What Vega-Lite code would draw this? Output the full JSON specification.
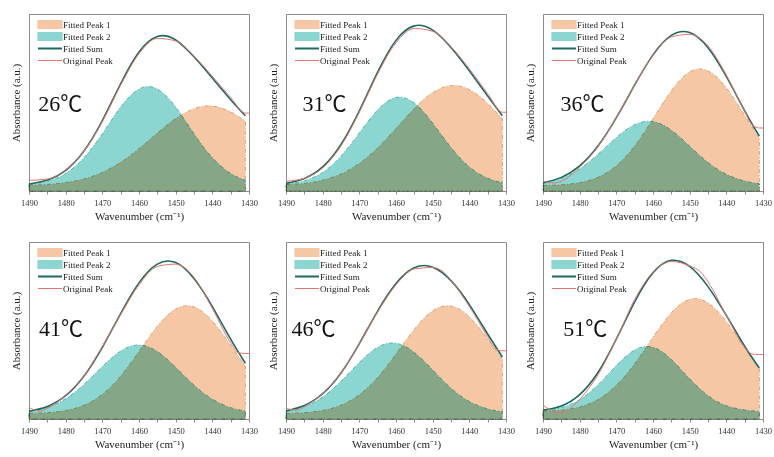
{
"$schema": "https://vega.github.io/schema/vega-lite/v6.json",
"background": "white",
"padding": {"left": 9, "top": 13, "right": 2, "bottom": 2},
"columns": 3,
"spacing": {"row": 19, "column": 8},
"resolve": {"scale": {"color": "independent", "stroke": "independent"}, "legend": {"color": "independent", "stroke": "independent"}},
"datasets": {
"fit": [
{"t":"26","x":1490,"Fitted Peak 1":0.033,"Fitted Peak 2":0.037,"Fitted Sum":0.040},
{"t":"26","x":1485,"Fitted Peak 1":0.037,"Fitted Peak 2":0.055,"Fitted Sum":0.062},
{"t":"26","x":1480,"Fitted Peak 1":0.048,"Fitted Peak 2":0.099,"Fitted Sum":0.117},
{"t":"26","x":1475,"Fitted Peak 1":0.068,"Fitted Peak 2":0.188,"Fitted Sum":0.226},
{"t":"26","x":1470,"Fitted Peak 1":0.105,"Fitted Peak 2":0.323,"Fitted Sum":0.398},
{"t":"26","x":1465,"Fitted Peak 1":0.162,"Fitted Peak 2":0.474,"Fitted Sum":0.606},
{"t":"26","x":1460,"Fitted Peak 1":0.239,"Fitted Peak 2":0.576,"Fitted Sum":0.785},
{"t":"26","x":1455,"Fitted Peak 1":0.327,"Fitted Peak 2":0.576,"Fitted Sum":0.873},
{"t":"26","x":1450,"Fitted Peak 1":0.409,"Fitted Peak 2":0.474,"Fitted Sum":0.853},
{"t":"26","x":1445,"Fitted Peak 1":0.465,"Fitted Peak 2":0.323,"Fitted Sum":0.758},
{"t":"26","x":1440,"Fitted Peak 1":0.480,"Fitted Peak 2":0.188,"Fitted Sum":0.638},
{"t":"26","x":1435,"Fitted Peak 1":0.447,"Fitted Peak 2":0.099,"Fitted Sum":0.516},
{"t":"26","x":1431,"Fitted Peak 1":0.394,"Fitted Peak 2":0.061,"Fitted Sum":0.425},
{"t":"31","x":1490,"Fitted Peak 1":0.035,"Fitted Peak 2":0.038,"Fitted Sum":0.043},
{"t":"31","x":1485,"Fitted Peak 1":0.043,"Fitted Peak 2":0.058,"Fitted Sum":0.071},
{"t":"31","x":1480,"Fitted Peak 1":0.061,"Fitted Peak 2":0.105,"Fitted Sum":0.136},
{"t":"31","x":1475,"Fitted Peak 1":0.096,"Fitted Peak 2":0.197,"Fitted Sum":0.263},
{"t":"31","x":1470,"Fitted Peak 1":0.156,"Fitted Peak 2":0.328,"Fitted Sum":0.453},
{"t":"31","x":1465,"Fitted Peak 1":0.243,"Fitted Peak 2":0.458,"Fitted Sum":0.672},
{"t":"31","x":1460,"Fitted Peak 1":0.353,"Fitted Peak 2":0.528,"Fitted Sum":0.851},
{"t":"31","x":1455,"Fitted Peak 1":0.466,"Fitted Peak 2":0.497,"Fitted Sum":0.933},
{"t":"31","x":1450,"Fitted Peak 1":0.556,"Fitted Peak 2":0.383,"Fitted Sum":0.909},
{"t":"31","x":1445,"Fitted Peak 1":0.595,"Fitted Peak 2":0.246,"Fitted Sum":0.811},
{"t":"31","x":1440,"Fitted Peak 1":0.573,"Fitted Peak 2":0.136,"Fitted Sum":0.679},
{"t":"31","x":1435,"Fitted Peak 1":0.495,"Fitted Peak 2":0.072,"Fitted Sum":0.537},
{"t":"31","x":1431,"Fitted Peak 1":0.408,"Fitted Peak 2":0.047,"Fitted Sum":0.425},
{"t":"36","x":1490,"Fitted Peak 1":0.031,"Fitted Peak 2":0.045,"Fitted Sum":0.046},
{"t":"36","x":1485,"Fitted Peak 1":0.035,"Fitted Peak 2":0.072,"Fitted Sum":0.077},
{"t":"36","x":1480,"Fitted Peak 1":0.047,"Fitted Peak 2":0.125,"Fitted Sum":0.142},
{"t":"36","x":1475,"Fitted Peak 1":0.077,"Fitted Peak 2":0.207,"Fitted Sum":0.254},
{"t":"36","x":1470,"Fitted Peak 1":0.142,"Fitted Peak 2":0.302,"Fitted Sum":0.414},
{"t":"36","x":1465,"Fitted Peak 1":0.254,"Fitted Peak 2":0.375,"Fitted Sum":0.599},
{"t":"36","x":1460,"Fitted Peak 1":0.407,"Fitted Peak 2":0.392,"Fitted Sum":0.769},
{"t":"36","x":1455,"Fitted Peak 1":0.566,"Fitted Peak 2":0.343,"Fitted Sum":0.879},
{"t":"36","x":1450,"Fitted Peak 1":0.673,"Fitted Peak 2":0.253,"Fitted Sum":0.895},
{"t":"36","x":1445,"Fitted Peak 1":0.679,"Fitted Peak 2":0.161,"Fitted Sum":0.810},
{"t":"36","x":1440,"Fitted Peak 1":0.583,"Fitted Peak 2":0.094,"Fitted Sum":0.647},
{"t":"36","x":1435,"Fitted Peak 1":0.427,"Fitted Peak 2":0.056,"Fitted Sum":0.453},
{"t":"36","x":1431,"Fitted Peak 1":0.300,"Fitted Peak 2":0.041,"Fitted Sum":0.310},
{"t":"41","x":1490,"Fitted Peak 1":0.032,"Fitted Peak 2":0.042,"Fitted Sum":0.044},
{"t":"41","x":1485,"Fitted Peak 1":0.036,"Fitted Peak 2":0.066,"Fitted Sum":0.071},
{"t":"41","x":1480,"Fitted Peak 1":0.048,"Fitted Peak 2":0.115,"Fitted Sum":0.132},
{"t":"41","x":1475,"Fitted Peak 1":0.078,"Fitted Peak 2":0.195,"Fitted Sum":0.243},
{"t":"41","x":1470,"Fitted Peak 1":0.139,"Fitted Peak 2":0.296,"Fitted Sum":0.405},
{"t":"41","x":1465,"Fitted Peak 1":0.242,"Fitted Peak 2":0.384,"Fitted Sum":0.596},
{"t":"41","x":1460,"Fitted Peak 1":0.381,"Fitted Peak 2":0.418,"Fitted Sum":0.769},
{"t":"41","x":1455,"Fitted Peak 1":0.524,"Fitted Peak 2":0.381,"Fitted Sum":0.875},
{"t":"41","x":1450,"Fitted Peak 1":0.621,"Fitted Peak 2":0.292,"Fitted Sum":0.884},
{"t":"41","x":1445,"Fitted Peak 1":0.633,"Fitted Peak 2":0.191,"Fitted Sum":0.794},
{"t":"41","x":1440,"Fitted Peak 1":0.553,"Fitted Peak 2":0.112,"Fitted Sum":0.635},
{"t":"41","x":1435,"Fitted Peak 1":0.416,"Fitted Peak 2":0.064,"Fitted Sum":0.451},
{"t":"41","x":1431,"Fitted Peak 1":0.300,"Fitted Peak 2":0.045,"Fitted Sum":0.315},
{"t":"46","x":1490,"Fitted Peak 1":0.032,"Fitted Peak 2":0.044,"Fitted Sum":0.046},
{"t":"46","x":1485,"Fitted Peak 1":0.036,"Fitted Peak 2":0.070,"Fitted Sum":0.076},
{"t":"46","x":1480,"Fitted Peak 1":0.048,"Fitted Peak 2":0.124,"Fitted Sum":0.143},
{"t":"46","x":1475,"Fitted Peak 1":0.078,"Fitted Peak 2":0.213,"Fitted Sum":0.260},
{"t":"46","x":1470,"Fitted Peak 1":0.137,"Fitted Peak 2":0.319,"Fitted Sum":0.426},
{"t":"46","x":1465,"Fitted Peak 1":0.234,"Fitted Peak 2":0.405,"Fitted Sum":0.610},
{"t":"46","x":1460,"Fitted Peak 1":0.367,"Fitted Peak 2":0.428,"Fitted Sum":0.765},
{"t":"46","x":1455,"Fitted Peak 1":0.507,"Fitted Peak 2":0.376,"Fitted Sum":0.854},
{"t":"46","x":1450,"Fitted Peak 1":0.611,"Fitted Peak 2":0.277,"Fitted Sum":0.858},
{"t":"46","x":1445,"Fitted Peak 1":0.638,"Fitted Peak 2":0.174,"Fitted Sum":0.782},
{"t":"46","x":1440,"Fitted Peak 1":0.577,"Fitted Peak 2":0.099,"Fitted Sum":0.646},
{"t":"46","x":1435,"Fitted Peak 1":0.453,"Fitted Peak 2":0.057,"Fitted Sum":0.480},
{"t":"46","x":1431,"Fitted Peak 1":0.339,"Fitted Peak 2":0.041,"Fitted Sum":0.350},
{"t":"51","x":1490,"Fitted Peak 1":0.043,"Fitted Peak 2":0.047,"Fitted Sum":0.050},
{"t":"51","x":1485,"Fitted Peak 1":0.050,"Fitted Peak 2":0.065,"Fitted Sum":0.074},
{"t":"51","x":1480,"Fitted Peak 1":0.068,"Fitted Peak 2":0.109,"Fitted Sum":0.138},
{"t":"51","x":1475,"Fitted Peak 1":0.110,"Fitted Peak 2":0.193,"Fitted Sum":0.263},
{"t":"51","x":1470,"Fitted Peak 1":0.190,"Fitted Peak 2":0.302,"Fitted Sum":0.452},
{"t":"51","x":1465,"Fitted Peak 1":0.312,"Fitted Peak 2":0.390,"Fitted Sum":0.662},
{"t":"51","x":1460,"Fitted Peak 1":0.462,"Fitted Peak 2":0.405,"Fitted Sum":0.827},
{"t":"51","x":1455,"Fitted Peak 1":0.600,"Fitted Peak 2":0.336,"Fitted Sum":0.896},
{"t":"51","x":1450,"Fitted Peak 1":0.676,"Fitted Peak 2":0.227,"Fitted Sum":0.862},
{"t":"51","x":1445,"Fitted Peak 1":0.656,"Fitted Peak 2":0.132,"Fitted Sum":0.748},
{"t":"51","x":1440,"Fitted Peak 1":0.550,"Fitted Peak 2":0.075,"Fitted Sum":0.585},
{"t":"51","x":1435,"Fitted Peak 1":0.401,"Fitted Peak 2":0.051,"Fitted Sum":0.411},
{"t":"51","x":1431,"Fitted Peak 1":0.284,"Fitted Peak 2":0.043,"Fitted Sum":0.288}
],
"orig": [
{"t":"26","x":1490,"y":0.060},{"t":"26","x":1485,"y":0.068},{"t":"26","x":1480,"y":0.120},{"t":"26","x":1475,"y":0.225},{"t":"26","x":1470,"y":0.392},{"t":"26","x":1465,"y":0.598},{"t":"26","x":1460,"y":0.776},{"t":"26","x":1455,"y":0.862},{"t":"26","x":1450,"y":0.848},{"t":"26","x":1445,"y":0.762},{"t":"26","x":1440,"y":0.648},{"t":"26","x":1435,"y":0.528},{"t":"26","x":1431,"y":0.440},{"t":"26","x":1430,"y":0.440},
{"t":"31","x":1490,"y":0.055},{"t":"31","x":1485,"y":0.072},{"t":"31","x":1480,"y":0.130},{"t":"31","x":1475,"y":0.255},{"t":"31","x":1470,"y":0.445},{"t":"31","x":1465,"y":0.662},{"t":"31","x":1460,"y":0.838},{"t":"31","x":1455,"y":0.918},{"t":"31","x":1450,"y":0.902},{"t":"31","x":1445,"y":0.815},{"t":"31","x":1440,"y":0.690},{"t":"31","x":1435,"y":0.550},{"t":"31","x":1431,"y":0.445},{"t":"31","x":1430,"y":0.445},
{"t":"36","x":1490,"y":0.055},{"t":"36","x":1487,"y":0.045},{"t":"36","x":1485,"y":0.055},{"t":"36","x":1480,"y":0.135},{"t":"36","x":1475,"y":0.250},{"t":"36","x":1470,"y":0.415},{"t":"36","x":1465,"y":0.600},{"t":"36","x":1460,"y":0.765},{"t":"36","x":1455,"y":0.870},{"t":"36","x":1450,"y":0.885},{"t":"36","x":1447,"y":0.860},{"t":"36","x":1445,"y":0.820},{"t":"36","x":1440,"y":0.655},{"t":"36","x":1435,"y":0.450},{"t":"36","x":1433,"y":0.375},{"t":"36","x":1431,"y":0.356},{"t":"36","x":1430,"y":0.356},
{"t":"41","x":1490,"y":0.065},{"t":"41","x":1487,"y":0.045},{"t":"41","x":1485,"y":0.060},{"t":"41","x":1480,"y":0.135},{"t":"41","x":1475,"y":0.245},{"t":"41","x":1470,"y":0.410},{"t":"41","x":1465,"y":0.590},{"t":"41","x":1460,"y":0.758},{"t":"41","x":1455,"y":0.862},{"t":"41","x":1450,"y":0.875},{"t":"41","x":1447,"y":0.845},{"t":"41","x":1445,"y":0.800},{"t":"41","x":1440,"y":0.625},{"t":"41","x":1435,"y":0.430},{"t":"41","x":1433,"y":0.375},{"t":"41","x":1431,"y":0.370},{"t":"41","x":1430,"y":0.370},
{"t":"46","x":1490,"y":0.060},{"t":"46","x":1487,"y":0.050},{"t":"46","x":1485,"y":0.070},{"t":"46","x":1480,"y":0.145},{"t":"46","x":1475,"y":0.260},{"t":"46","x":1470,"y":0.425},{"t":"46","x":1465,"y":0.605},{"t":"46","x":1460,"y":0.758},{"t":"46","x":1455,"y":0.848},{"t":"46","x":1450,"y":0.856},{"t":"46","x":1447,"y":0.830},{"t":"46","x":1445,"y":0.785},{"t":"46","x":1440,"y":0.635},{"t":"46","x":1435,"y":0.465},{"t":"46","x":1433,"y":0.400},{"t":"46","x":1431,"y":0.385},{"t":"46","x":1430,"y":0.385},
{"t":"51","x":1490,"y":0.080},{"t":"51","x":1487,"y":0.040},{"t":"51","x":1485,"y":0.035},{"t":"51","x":1482,"y":0.070},{"t":"51","x":1480,"y":0.110},{"t":"51","x":1475,"y":0.250},{"t":"51","x":1470,"y":0.450},{"t":"51","x":1465,"y":0.675},{"t":"51","x":1460,"y":0.830},{"t":"51","x":1455,"y":0.890},{"t":"51","x":1450,"y":0.865},{"t":"51","x":1447,"y":0.830},{"t":"51","x":1445,"y":0.775},{"t":"51","x":1440,"y":0.585},{"t":"51","x":1435,"y":0.405},{"t":"51","x":1433,"y":0.368},{"t":"51","x":1431,"y":0.364},{"t":"51","x":1430,"y":0.364}
],
"labels": [
{"t":"26","x":1487.5,"y":0.452,"label":"26℃"},
{"t":"31","x":1485.5,"y":0.452,"label":"31℃"},
{"t":"36","x":1485.2,"y":0.452,"label":"36℃"},
{"t":"41","x":1487.3,"y":0.47,"label":"41℃"},
{"t":"46","x":1488.5,"y":0.47,"label":"46℃"},
{"t":"51","x":1484.5,"y":0.47,"label":"51℃"}
]
},
"concat": [
{"width":220,"height":177,
"encoding":{"x":{"field":"x","type":"quantitative","scale":{"domain":[1430,1490],"reverse":true,"nice":false,"zero":false},"axis":{"title":"Wavenumber (cm⁻¹)","values":[1430,1435,1440,1445,1450,1455,1460,1465,1470,1475,1480,1485,1490],"format":"d","labelExpr":"datum.value % 10 === 0 ? datum.label : ''","tickSize":3,"labelPadding":4,"titlePadding":4,"labelOverlap":false,"labelFlush":false}}},
"layer":[
{"data":{"name":"fit"},"transform":[{"filter":"datum.t=='26'"},{"fold":["Fitted Peak 2","Fitted Peak 1"],"as":["series","v"]}],
"mark":{"type":"area","interpolate":"natural","blend":"multiply","strokeWidth":1,"strokeDash":[4,2,1,2]},
"encoding":{"y":{"field":"v","type":"quantitative","stack":null,"scale":{"domain":[0,1],"nice":false},"axis":{"title":"Absorbance (a.u.)","labels":false,"ticks":false,"titlePadding":8}},
"color":{"field":"series","type":"nominal","scale":{"domain":["Fitted Peak 1","Fitted Peak 2","Fitted Sum","Original Peak"],"range":["#f6c7a5","#8bd6d0","#1c6b5e","#e8736e"]},
"legend":{"title":null,"orient":"top-left","offset":6,"padding":0,"symbolSize":576,"clipHeight":9,"rowPadding":2,"labelFontSize":9,"labelColor":"#222","labelLimit":200,
"encode":{"symbols":{"update":{"x":{"value":15},"size":{"value":576},"shape":{"signal":"datum.value=='Fitted Sum'||datum.value=='Original Peak' ? 'stroke' : 'M-1,-0.32H1V0.32H-1Z'"},"fill":{"signal":"datum.value=='Fitted Peak 1' ? '#f6c7a5' : datum.value=='Fitted Peak 2' ? '#8bd6d0' : 'transparent'"},"stroke":{"signal":"datum.value=='Fitted Peak 1' ? '#f0b88a' : datum.value=='Fitted Peak 2' ? '#7fd0c4' : datum.value=='Fitted Sum' ? '#1c6b5e' : '#e8736e'"},"strokeWidth":{"signal":"datum.value=='Fitted Sum' ? 2 : 1.2"},"opacity":{"value":1}}},"labels":{"update":{"x":{"value":28}}}}}},
"stroke":{"field":"series","type":"nominal","scale":{"domain":["Fitted Peak 1","Fitted Peak 2"],"range":["#e0a26e","#4fb5a7"]},"legend":null}}},
{"data":{"name":"fit"},"transform":[{"filter":"datum.t=='26'"}],"mark":{"type":"line","interpolate":"natural","strokeWidth":1.6},
"encoding":{"y":{"field":"Fitted Sum","type":"quantitative","title":"Absorbance (a.u.)"},"color":{"datum":"Fitted Sum","type":"nominal"}}},
{"data":{"name":"orig"},"transform":[{"filter":"datum.t=='26'"}],"mark":{"type":"line","interpolate":"monotone","strokeWidth":1},
"encoding":{"y":{"field":"y","type":"quantitative","title":"Absorbance (a.u.)"},"color":{"datum":"Original Peak","type":"nominal"}}},
{"data":{"name":"labels"},"transform":[{"filter":"datum.t=='26'"}],"mark":{"type":"text","align":"left","baseline":"alphabetic","fontSize":22,"font":"Liberation Serif, Noto Sans CJK SC","color":"#111"},
"encoding":{"y":{"field":"y","type":"quantitative","title":"Absorbance (a.u.)"},"text":{"field":"label"}}}
]},
{"width":220,"height":177,
"encoding":{"x":{"field":"x","type":"quantitative","scale":{"domain":[1430,1490],"reverse":true,"nice":false,"zero":false},"axis":{"title":"Wavenumber (cm⁻¹)","values":[1430,1435,1440,1445,1450,1455,1460,1465,1470,1475,1480,1485,1490],"format":"d","labelExpr":"datum.value % 10 === 0 ? datum.label : ''","tickSize":3,"labelPadding":4,"titlePadding":4,"labelOverlap":false,"labelFlush":false}}},
"layer":[
{"data":{"name":"fit"},"transform":[{"filter":"datum.t=='31'"},{"fold":["Fitted Peak 2","Fitted Peak 1"],"as":["series","v"]}],
"mark":{"type":"area","interpolate":"natural","blend":"multiply","strokeWidth":1,"strokeDash":[4,2,1,2]},
"encoding":{"y":{"field":"v","type":"quantitative","stack":null,"scale":{"domain":[0,1],"nice":false},"axis":{"title":"Absorbance (a.u.)","labels":false,"ticks":false,"titlePadding":8}},
"color":{"field":"series","type":"nominal","scale":{"domain":["Fitted Peak 1","Fitted Peak 2","Fitted Sum","Original Peak"],"range":["#f6c7a5","#8bd6d0","#1c6b5e","#e8736e"]},
"legend":{"title":null,"orient":"top-left","offset":6,"padding":0,"symbolSize":576,"clipHeight":9,"rowPadding":2,"labelFontSize":9,"labelColor":"#222","labelLimit":200,
"encode":{"symbols":{"update":{"x":{"value":15},"size":{"value":576},"shape":{"signal":"datum.value=='Fitted Sum'||datum.value=='Original Peak' ? 'stroke' : 'M-1,-0.32H1V0.32H-1Z'"},"fill":{"signal":"datum.value=='Fitted Peak 1' ? '#f6c7a5' : datum.value=='Fitted Peak 2' ? '#8bd6d0' : 'transparent'"},"stroke":{"signal":"datum.value=='Fitted Peak 1' ? '#f0b88a' : datum.value=='Fitted Peak 2' ? '#7fd0c4' : datum.value=='Fitted Sum' ? '#1c6b5e' : '#e8736e'"},"strokeWidth":{"signal":"datum.value=='Fitted Sum' ? 2 : 1.2"},"opacity":{"value":1}}},"labels":{"update":{"x":{"value":28}}}}}},
"stroke":{"field":"series","type":"nominal","scale":{"domain":["Fitted Peak 1","Fitted Peak 2"],"range":["#e0a26e","#4fb5a7"]},"legend":null}}},
{"data":{"name":"fit"},"transform":[{"filter":"datum.t=='31'"}],"mark":{"type":"line","interpolate":"natural","strokeWidth":1.6},
"encoding":{"y":{"field":"Fitted Sum","type":"quantitative","title":"Absorbance (a.u.)"},"color":{"datum":"Fitted Sum","type":"nominal"}}},
{"data":{"name":"orig"},"transform":[{"filter":"datum.t=='31'"}],"mark":{"type":"line","interpolate":"monotone","strokeWidth":1},
"encoding":{"y":{"field":"y","type":"quantitative","title":"Absorbance (a.u.)"},"color":{"datum":"Original Peak","type":"nominal"}}},
{"data":{"name":"labels"},"transform":[{"filter":"datum.t=='31'"}],"mark":{"type":"text","align":"left","baseline":"alphabetic","fontSize":22,"font":"Liberation Serif, Noto Sans CJK SC","color":"#111"},
"encoding":{"y":{"field":"y","type":"quantitative","title":"Absorbance (a.u.)"},"text":{"field":"label"}}}
]},
{"width":220,"height":177,
"encoding":{"x":{"field":"x","type":"quantitative","scale":{"domain":[1430,1490],"reverse":true,"nice":false,"zero":false},"axis":{"title":"Wavenumber (cm⁻¹)","values":[1430,1435,1440,1445,1450,1455,1460,1465,1470,1475,1480,1485,1490],"format":"d","labelExpr":"datum.value % 10 === 0 ? datum.label : ''","tickSize":3,"labelPadding":4,"titlePadding":4,"labelOverlap":false,"labelFlush":false}}},
"layer":[
{"data":{"name":"fit"},"transform":[{"filter":"datum.t=='36'"},{"fold":["Fitted Peak 2","Fitted Peak 1"],"as":["series","v"]}],
"mark":{"type":"area","interpolate":"natural","blend":"multiply","strokeWidth":1,"strokeDash":[4,2,1,2]},
"encoding":{"y":{"field":"v","type":"quantitative","stack":null,"scale":{"domain":[0,1],"nice":false},"axis":{"title":"Absorbance (a.u.)","labels":false,"ticks":false,"titlePadding":8}},
"color":{"field":"series","type":"nominal","scale":{"domain":["Fitted Peak 1","Fitted Peak 2","Fitted Sum","Original Peak"],"range":["#f6c7a5","#8bd6d0","#1c6b5e","#e8736e"]},
"legend":{"title":null,"orient":"top-left","offset":6,"padding":0,"symbolSize":576,"clipHeight":9,"rowPadding":2,"labelFontSize":9,"labelColor":"#222","labelLimit":200,
"encode":{"symbols":{"update":{"x":{"value":15},"size":{"value":576},"shape":{"signal":"datum.value=='Fitted Sum'||datum.value=='Original Peak' ? 'stroke' : 'M-1,-0.32H1V0.32H-1Z'"},"fill":{"signal":"datum.value=='Fitted Peak 1' ? '#f6c7a5' : datum.value=='Fitted Peak 2' ? '#8bd6d0' : 'transparent'"},"stroke":{"signal":"datum.value=='Fitted Peak 1' ? '#f0b88a' : datum.value=='Fitted Peak 2' ? '#7fd0c4' : datum.value=='Fitted Sum' ? '#1c6b5e' : '#e8736e'"},"strokeWidth":{"signal":"datum.value=='Fitted Sum' ? 2 : 1.2"},"opacity":{"value":1}}},"labels":{"update":{"x":{"value":28}}}}}},
"stroke":{"field":"series","type":"nominal","scale":{"domain":["Fitted Peak 1","Fitted Peak 2"],"range":["#e0a26e","#4fb5a7"]},"legend":null}}},
{"data":{"name":"fit"},"transform":[{"filter":"datum.t=='36'"}],"mark":{"type":"line","interpolate":"natural","strokeWidth":1.6},
"encoding":{"y":{"field":"Fitted Sum","type":"quantitative","title":"Absorbance (a.u.)"},"color":{"datum":"Fitted Sum","type":"nominal"}}},
{"data":{"name":"orig"},"transform":[{"filter":"datum.t=='36'"}],"mark":{"type":"line","interpolate":"monotone","strokeWidth":1},
"encoding":{"y":{"field":"y","type":"quantitative","title":"Absorbance (a.u.)"},"color":{"datum":"Original Peak","type":"nominal"}}},
{"data":{"name":"labels"},"transform":[{"filter":"datum.t=='36'"}],"mark":{"type":"text","align":"left","baseline":"alphabetic","fontSize":22,"font":"Liberation Serif, Noto Sans CJK SC","color":"#111"},
"encoding":{"y":{"field":"y","type":"quantitative","title":"Absorbance (a.u.)"},"text":{"field":"label"}}}
]},
{"width":220,"height":177,
"encoding":{"x":{"field":"x","type":"quantitative","scale":{"domain":[1430,1490],"reverse":true,"nice":false,"zero":false},"axis":{"title":"Wavenumber (cm⁻¹)","values":[1430,1435,1440,1445,1450,1455,1460,1465,1470,1475,1480,1485,1490],"format":"d","labelExpr":"datum.value % 10 === 0 ? datum.label : ''","tickSize":3,"labelPadding":4,"titlePadding":4,"labelOverlap":false,"labelFlush":false}}},
"layer":[
{"data":{"name":"fit"},"transform":[{"filter":"datum.t=='41'"},{"fold":["Fitted Peak 2","Fitted Peak 1"],"as":["series","v"]}],
"mark":{"type":"area","interpolate":"natural","blend":"multiply","strokeWidth":1,"strokeDash":[4,2,1,2]},
"encoding":{"y":{"field":"v","type":"quantitative","stack":null,"scale":{"domain":[0,1],"nice":false},"axis":{"title":"Absorbance (a.u.)","labels":false,"ticks":false,"titlePadding":8}},
"color":{"field":"series","type":"nominal","scale":{"domain":["Fitted Peak 1","Fitted Peak 2","Fitted Sum","Original Peak"],"range":["#f6c7a5","#8bd6d0","#1c6b5e","#e8736e"]},
"legend":{"title":null,"orient":"top-left","offset":6,"padding":0,"symbolSize":576,"clipHeight":9,"rowPadding":2,"labelFontSize":9,"labelColor":"#222","labelLimit":200,
"encode":{"symbols":{"update":{"x":{"value":15},"size":{"value":576},"shape":{"signal":"datum.value=='Fitted Sum'||datum.value=='Original Peak' ? 'stroke' : 'M-1,-0.32H1V0.32H-1Z'"},"fill":{"signal":"datum.value=='Fitted Peak 1' ? '#f6c7a5' : datum.value=='Fitted Peak 2' ? '#8bd6d0' : 'transparent'"},"stroke":{"signal":"datum.value=='Fitted Peak 1' ? '#f0b88a' : datum.value=='Fitted Peak 2' ? '#7fd0c4' : datum.value=='Fitted Sum' ? '#1c6b5e' : '#e8736e'"},"strokeWidth":{"signal":"datum.value=='Fitted Sum' ? 2 : 1.2"},"opacity":{"value":1}}},"labels":{"update":{"x":{"value":28}}}}}},
"stroke":{"field":"series","type":"nominal","scale":{"domain":["Fitted Peak 1","Fitted Peak 2"],"range":["#e0a26e","#4fb5a7"]},"legend":null}}},
{"data":{"name":"fit"},"transform":[{"filter":"datum.t=='41'"}],"mark":{"type":"line","interpolate":"natural","strokeWidth":1.6},
"encoding":{"y":{"field":"Fitted Sum","type":"quantitative","title":"Absorbance (a.u.)"},"color":{"datum":"Fitted Sum","type":"nominal"}}},
{"data":{"name":"orig"},"transform":[{"filter":"datum.t=='41'"}],"mark":{"type":"line","interpolate":"monotone","strokeWidth":1},
"encoding":{"y":{"field":"y","type":"quantitative","title":"Absorbance (a.u.)"},"color":{"datum":"Original Peak","type":"nominal"}}},
{"data":{"name":"labels"},"transform":[{"filter":"datum.t=='41'"}],"mark":{"type":"text","align":"left","baseline":"alphabetic","fontSize":22,"font":"Liberation Serif, Noto Sans CJK SC","color":"#111"},
"encoding":{"y":{"field":"y","type":"quantitative","title":"Absorbance (a.u.)"},"text":{"field":"label"}}}
]},
{"width":220,"height":177,
"encoding":{"x":{"field":"x","type":"quantitative","scale":{"domain":[1430,1490],"reverse":true,"nice":false,"zero":false},"axis":{"title":"Wavenumber (cm⁻¹)","values":[1430,1435,1440,1445,1450,1455,1460,1465,1470,1475,1480,1485,1490],"format":"d","labelExpr":"datum.value % 10 === 0 ? datum.label : ''","tickSize":3,"labelPadding":4,"titlePadding":4,"labelOverlap":false,"labelFlush":false}}},
"layer":[
{"data":{"name":"fit"},"transform":[{"filter":"datum.t=='46'"},{"fold":["Fitted Peak 2","Fitted Peak 1"],"as":["series","v"]}],
"mark":{"type":"area","interpolate":"natural","blend":"multiply","strokeWidth":1,"strokeDash":[4,2,1,2]},
"encoding":{"y":{"field":"v","type":"quantitative","stack":null,"scale":{"domain":[0,1],"nice":false},"axis":{"title":"Absorbance (a.u.)","labels":false,"ticks":false,"titlePadding":8}},
"color":{"field":"series","type":"nominal","scale":{"domain":["Fitted Peak 1","Fitted Peak 2","Fitted Sum","Original Peak"],"range":["#f6c7a5","#8bd6d0","#1c6b5e","#e8736e"]},
"legend":{"title":null,"orient":"top-left","offset":6,"padding":0,"symbolSize":576,"clipHeight":9,"rowPadding":2,"labelFontSize":9,"labelColor":"#222","labelLimit":200,
"encode":{"symbols":{"update":{"x":{"value":15},"size":{"value":576},"shape":{"signal":"datum.value=='Fitted Sum'||datum.value=='Original Peak' ? 'stroke' : 'M-1,-0.32H1V0.32H-1Z'"},"fill":{"signal":"datum.value=='Fitted Peak 1' ? '#f6c7a5' : datum.value=='Fitted Peak 2' ? '#8bd6d0' : 'transparent'"},"stroke":{"signal":"datum.value=='Fitted Peak 1' ? '#f0b88a' : datum.value=='Fitted Peak 2' ? '#7fd0c4' : datum.value=='Fitted Sum' ? '#1c6b5e' : '#e8736e'"},"strokeWidth":{"signal":"datum.value=='Fitted Sum' ? 2 : 1.2"},"opacity":{"value":1}}},"labels":{"update":{"x":{"value":28}}}}}},
"stroke":{"field":"series","type":"nominal","scale":{"domain":["Fitted Peak 1","Fitted Peak 2"],"range":["#e0a26e","#4fb5a7"]},"legend":null}}},
{"data":{"name":"fit"},"transform":[{"filter":"datum.t=='46'"}],"mark":{"type":"line","interpolate":"natural","strokeWidth":1.6},
"encoding":{"y":{"field":"Fitted Sum","type":"quantitative","title":"Absorbance (a.u.)"},"color":{"datum":"Fitted Sum","type":"nominal"}}},
{"data":{"name":"orig"},"transform":[{"filter":"datum.t=='46'"}],"mark":{"type":"line","interpolate":"monotone","strokeWidth":1},
"encoding":{"y":{"field":"y","type":"quantitative","title":"Absorbance (a.u.)"},"color":{"datum":"Original Peak","type":"nominal"}}},
{"data":{"name":"labels"},"transform":[{"filter":"datum.t=='46'"}],"mark":{"type":"text","align":"left","baseline":"alphabetic","fontSize":22,"font":"Liberation Serif, Noto Sans CJK SC","color":"#111"},
"encoding":{"y":{"field":"y","type":"quantitative","title":"Absorbance (a.u.)"},"text":{"field":"label"}}}
]},
{"width":220,"height":177,
"encoding":{"x":{"field":"x","type":"quantitative","scale":{"domain":[1430,1490],"reverse":true,"nice":false,"zero":false},"axis":{"title":"Wavenumber (cm⁻¹)","values":[1430,1435,1440,1445,1450,1455,1460,1465,1470,1475,1480,1485,1490],"format":"d","labelExpr":"datum.value % 10 === 0 ? datum.label : ''","tickSize":3,"labelPadding":4,"titlePadding":4,"labelOverlap":false,"labelFlush":false}}},
"layer":[
{"data":{"name":"fit"},"transform":[{"filter":"datum.t=='51'"},{"fold":["Fitted Peak 2","Fitted Peak 1"],"as":["series","v"]}],
"mark":{"type":"area","interpolate":"natural","blend":"multiply","strokeWidth":1,"strokeDash":[4,2,1,2]},
"encoding":{"y":{"field":"v","type":"quantitative","stack":null,"scale":{"domain":[0,1],"nice":false},"axis":{"title":"Absorbance (a.u.)","labels":false,"ticks":false,"titlePadding":8}},
"color":{"field":"series","type":"nominal","scale":{"domain":["Fitted Peak 1","Fitted Peak 2","Fitted Sum","Original Peak"],"range":["#f6c7a5","#8bd6d0","#1c6b5e","#e8736e"]},
"legend":{"title":null,"orient":"top-left","offset":6,"padding":0,"symbolSize":576,"clipHeight":9,"rowPadding":2,"labelFontSize":9,"labelColor":"#222","labelLimit":200,
"encode":{"symbols":{"update":{"x":{"value":15},"size":{"value":576},"shape":{"signal":"datum.value=='Fitted Sum'||datum.value=='Original Peak' ? 'stroke' : 'M-1,-0.32H1V0.32H-1Z'"},"fill":{"signal":"datum.value=='Fitted Peak 1' ? '#f6c7a5' : datum.value=='Fitted Peak 2' ? '#8bd6d0' : 'transparent'"},"stroke":{"signal":"datum.value=='Fitted Peak 1' ? '#f0b88a' : datum.value=='Fitted Peak 2' ? '#7fd0c4' : datum.value=='Fitted Sum' ? '#1c6b5e' : '#e8736e'"},"strokeWidth":{"signal":"datum.value=='Fitted Sum' ? 2 : 1.2"},"opacity":{"value":1}}},"labels":{"update":{"x":{"value":28}}}}}},
"stroke":{"field":"series","type":"nominal","scale":{"domain":["Fitted Peak 1","Fitted Peak 2"],"range":["#e0a26e","#4fb5a7"]},"legend":null}}},
{"data":{"name":"fit"},"transform":[{"filter":"datum.t=='51'"}],"mark":{"type":"line","interpolate":"natural","strokeWidth":1.6},
"encoding":{"y":{"field":"Fitted Sum","type":"quantitative","title":"Absorbance (a.u.)"},"color":{"datum":"Fitted Sum","type":"nominal"}}},
{"data":{"name":"orig"},"transform":[{"filter":"datum.t=='51'"}],"mark":{"type":"line","interpolate":"monotone","strokeWidth":1},
"encoding":{"y":{"field":"y","type":"quantitative","title":"Absorbance (a.u.)"},"color":{"datum":"Original Peak","type":"nominal"}}},
{"data":{"name":"labels"},"transform":[{"filter":"datum.t=='51'"}],"mark":{"type":"text","align":"left","baseline":"alphabetic","fontSize":22,"font":"Liberation Serif, Noto Sans CJK SC","color":"#111"},
"encoding":{"y":{"field":"y","type":"quantitative","title":"Absorbance (a.u.)"},"text":{"field":"label"}}}
]}
],
"config": {
"font": "Liberation Serif",
"view": {"stroke": "#8c8c8c", "strokeWidth": 1},
"axis": {"labelFont": "Liberation Serif", "titleFont": "Liberation Serif", "labelFontSize": 8.5, "titleFontSize": 11, "titleFontWeight": "normal", "domainColor": "#8c8c8c", "tickColor": "#8c8c8c", "labelColor": "#333333", "titleColor": "#222222", "grid": false},
"legend": {"labelFont": "Liberation Serif"}
}
}
